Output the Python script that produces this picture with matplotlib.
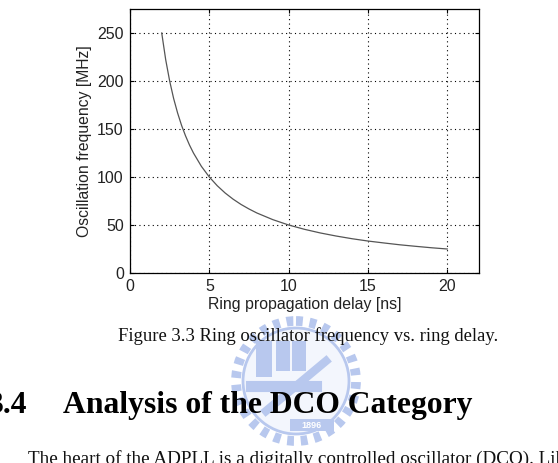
import matplotlib
matplotlib.use("Agg")
import matplotlib.pyplot as plt
from matplotlib.patches import Circle, Rectangle

# Data (ring propagation delay [ns] -> frequency [MHz])
delay_ns = [2.0, 2.25, 2.5, 2.75, 3.0, 3.25, 3.5, 3.75, 4.0, 4.5, 5.0, 5.5, 6.0,
            6.5, 7.0, 7.5, 8.0, 9.0, 10.0, 11.0, 12.0, 13.0, 14.0, 15.0, 16.0,
            17.0, 18.0, 19.0, 20.0]
freq_mhz = [250.0, 222.2, 200.0, 181.8, 166.7, 153.8, 142.9, 133.3, 125.0, 111.1,
            100.0, 90.9, 83.3, 76.9, 71.4, 66.7, 62.5, 55.6, 50.0, 45.5, 41.7,
            38.5, 35.7, 33.3, 31.3, 29.4, 27.8, 26.3, 25.0]
x_ticks = [0, 5, 10, 15, 20]
y_ticks = [0, 50, 100, 150, 200, 250]

caption = "Figure 3.3 Ring oscillator frequency vs. ring delay."
heading_num = "3.4"
heading = "Analysis of the DCO Category"
body = "The heart of the ADPLL is a digitally controlled oscillator (DCO). Lik"

fig = plt.figure(figsize=(5.58, 4.63), dpi=100)
W, H = 558, 463

# Watermark logo (faint)
logo_ax = fig.add_axes([0, 0, 1, 1])
logo_ax.set_xlim(0, W)
logo_ax.set_ylim(H, 0)
logo_ax.axis("off")
logo_ax.set_zorder(0)
lc = "#b8c8ee"
cx, cy = 296, 381
logo_ax.add_patch(Circle((cx, cy), 60, facecolor="none", edgecolor=lc, lw=7, ls=(0, (0.7, 0.7))))
logo_ax.add_patch(Circle((cx, cy), 53, facecolor="#f3f6fd", edgecolor=lc, lw=2))
logo_ax.add_patch(Rectangle((cx - 40, cy - 40), 16, 36, facecolor=lc, edgecolor="none"))
logo_ax.add_patch(Rectangle((cx - 20, cy - 40), 14, 30, facecolor=lc, edgecolor="none"))
logo_ax.add_patch(Rectangle((cx - 4, cy - 40), 14, 30, facecolor=lc, edgecolor="none"))
logo_ax.plot([cx - 30, cx + 30], [cy + 30, cy - 20], color=lc, lw=6)
logo_ax.plot([cx - 45, cx + 20], [cy + 5, cy + 5], color=lc, lw=8)
logo_ax.add_patch(Rectangle((cx - 6, cy + 38), 44, 12, facecolor=lc, edgecolor="none"))
logo_ax.text(cx + 16, cy + 44, "1896", color="white", fontsize=6.5, fontweight="bold",
             ha="center", va="center", family="Liberation Sans")

# Chart axes
ax = fig.add_axes([130 / W, 1 - 273 / H, (479 - 130) / W, (273 - 9) / H])
ax.set_zorder(2)
ax.plot(delay_ns, freq_mhz, color="#555555", lw=0.9)
ax.set_xlim(0, 22)
ax.set_ylim(0, 275)
ax.set_xticks(x_ticks)
ax.set_yticks(y_ticks)
ax.grid(True, color="black", ls=(0, (1, 3)), lw=0.8)
ax.tick_params(direction="in", length=3, labelsize=11.5, top=True, right=True, pad=4.5)
for lab in ax.get_xticklabels() + ax.get_yticklabels():
    lab.set_family("Liberation Sans")
    lab.set_color("#222222")
for s in ax.spines.values():
    s.set_linewidth(0.9)
ax.set_xlabel("Ring propagation delay [ns]", fontsize=11.4, family="Liberation Sans",
              labelpad=2, color="#222222")
ax.set_ylabel("Oscillation frequency [MHz]", fontsize=11.3, family="Liberation Sans",
              labelpad=4, color="#222222")

# Page text
tx = fig.add_axes([0, 0, 1, 1])
tx.set_xlim(0, W)
tx.set_ylim(H, 0)
tx.axis("off")
tx.set_zorder(3)
tx.patch.set_alpha(0)
tx.text(308, 336, caption, fontsize=13.4, family="Liberation Serif", ha="center",
        va="center", color="#111111")
tx.text(27, 413, heading_num, fontsize=22.8, family="Liberation Serif", fontweight="bold",
        ha="right", va="baseline", color="black")
tx.text(63, 413, heading, fontsize=22.8, family="Liberation Serif", fontweight="bold",
        ha="left", va="baseline", color="black")
tx.text(28, 464, body, fontsize=13.8, family="Liberation Serif", ha="left",
        va="baseline", color="#111111")

fig.savefig("out.png", dpi=100, facecolor="white")
